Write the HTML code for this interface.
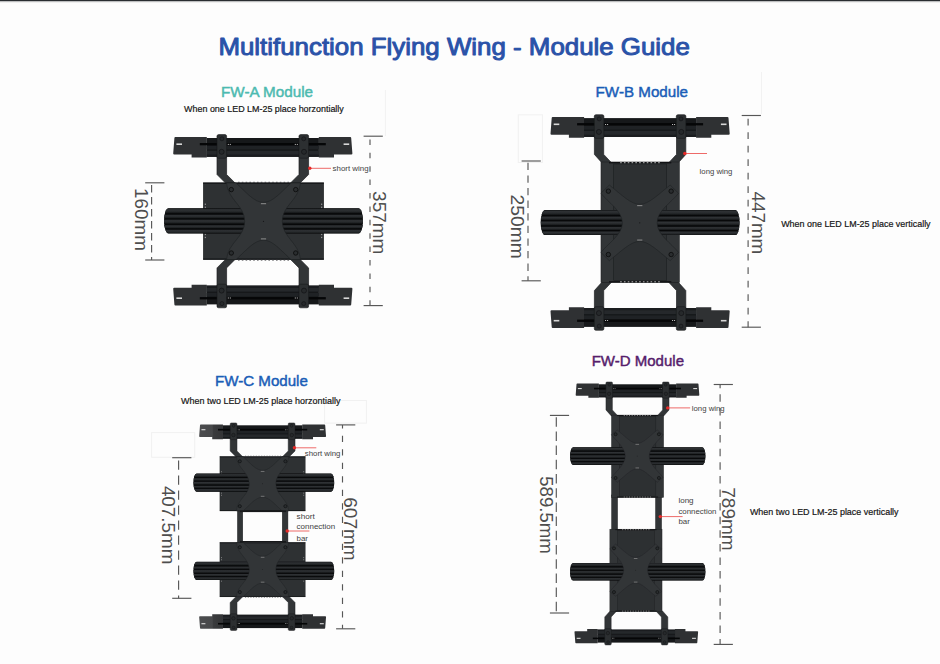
<!DOCTYPE html><html><head><meta charset="utf-8"><style>html,body{margin:0;padding:0;background:#fdfdfd;width:940px;height:664px;overflow:hidden}svg{display:block}text{font-family:"Liberation Sans",sans-serif}</style></head><body>
<svg width="940" height="664" viewBox="0 0 940 664">
<defs><linearGradient id="rg" x1="0" y1="0" x2="0" y2="1"><stop offset="0" stop-color="#181a1c"/><stop offset="0.3" stop-color="#2f3235"/><stop offset="0.65" stop-color="#25282a"/><stop offset="1" stop-color="#0f1112"/></linearGradient></defs>
<defs><linearGradient id="bg" x1="0" y1="0" x2="1" y2="0"><stop offset="0" stop-color="#4b4c4e"/><stop offset="0.55" stop-color="#47484a"/><stop offset="0.6" stop-color="#3a3b3d"/><stop offset="1" stop-color="#333436"/></linearGradient></defs>
<rect width="940" height="664" fill="#fdfdfd"/>
<rect width="940" height="1.2" fill="#2a2d31"/><rect y="1.2" width="940" height="1" fill="#b8b9ba"/>
<rect x="518.3" y="114.8" width="24.1" height="47.7" fill="none" stroke="#f1f1f1" stroke-width="1"/>
<rect x="151.6" y="432.6" width="43.1" height="24.7" fill="none" stroke="#f1f1f1" stroke-width="1"/>
<rect x="324.6" y="400.5" width="41.8" height="22.6" fill="none" stroke="#f1f1f1" stroke-width="1"/>
<line x1="385.4" y1="90" x2="385.4" y2="136" stroke="#f2f2f2" stroke-width="1"/>
<line x1="761.5" y1="72" x2="761.5" y2="114" stroke="#f2f2f2" stroke-width="1"/>
<text x="218.4" y="54.9" font-size="24" fill="#2a52a8" stroke="#2a52a8" stroke-width="0.95" stroke-linejoin="round" textLength="471.5" lengthAdjust="spacingAndGlyphs">Multifunction Flying Wing - Module Guide</text>
<text x="221" y="97.2" font-size="15.2" fill="#4cbab0" stroke="#4cbab0" stroke-width="0.45" textLength="92" lengthAdjust="spacingAndGlyphs">FW-A Module</text>
<text x="184.1" y="112.0" font-size="9.4" fill="#151515" stroke="#151515" stroke-width="0.2" textLength="159.7" lengthAdjust="spacingAndGlyphs">When one LED LM-25 place horzontially</text>
<text x="595.6" y="97.1" font-size="15.2" fill="#1a5db7" stroke="#1a5db7" stroke-width="0.45" textLength="92.4" lengthAdjust="spacingAndGlyphs">FW-B Module</text>
<text x="781.2" y="227.2" font-size="9.4" fill="#151515" stroke="#151515" stroke-width="0.2" textLength="149.4" lengthAdjust="spacingAndGlyphs">When one LED LM-25 place vertically</text>
<text x="214.9" y="385.8" font-size="15.2" fill="#1a5db7" stroke="#1a5db7" stroke-width="0.45" textLength="93" lengthAdjust="spacingAndGlyphs">FW-C Module</text>
<text x="181.1" y="403.6" font-size="9.4" fill="#151515" stroke="#151515" stroke-width="0.2" textLength="159.3" lengthAdjust="spacingAndGlyphs">When two LED LM-25 place horzontially</text>
<text x="591.7" y="366.4" font-size="15.2" fill="#561d6c" stroke="#561d6c" stroke-width="0.45" textLength="92.3" lengthAdjust="spacingAndGlyphs">FW-D Module</text>
<text x="749.9" y="515.4" font-size="9.4" fill="#151515" stroke="#151515" stroke-width="0.2" textLength="148.7" lengthAdjust="spacingAndGlyphs">When two LED LM-25 place vertically</text>
<g>
<g>
<polygon points="217.00,150.00 226.60,150.00 226.60,174.50 243.60,191.50 234.00,191.50 217.00,174.50" fill="#323537" stroke="#1f2124" stroke-width="0.70"/>
<polygon points="308.60,150.00 299.00,150.00 299.00,174.50 282.00,191.50 291.60,191.50 308.60,174.50" fill="#323537" stroke="#1f2124" stroke-width="0.70"/>
<g transform="translate(262.80,137.00) scale(1.0000,1.0000)"><g transform="scale(1,1)"><path d="M-88.4 1 Q-88.4 0 -87.4 0 L-56 0 L-56 20.6 L-71.2 20.6 L-71.2 17.6 L-88.6 17.6 Q-89.6 17.6 -89.6 16.6 Z" fill="#2f3133"/><rect x="-86.4" y="6.4" width="5.6" height="1.6" fill="#d8d8d8"/></g><g transform="scale(-1,1)"><path d="M-88.4 1 Q-88.4 0 -87.4 0 L-56 0 L-56 20.6 L-71.2 20.6 L-71.2 17.6 L-88.6 17.6 Q-89.6 17.6 -89.6 16.6 Z" fill="#2f3133"/><rect x="-86.4" y="6.4" width="5.6" height="1.6" fill="#d8d8d8"/></g><rect x="-56.1" y="1" width="112.2" height="18.8" fill="#16181a"/><rect x="-56.1" y="8.9" width="112.2" height="3.5" fill="#1f2225"/><rect x="-56.1" y="13.8" width="112.2" height="4" fill="#25282b"/><rect x="-56.1" y="17.8" width="112.2" height="2" fill="#1a1c1f"/><rect x="-63" y="6.0" width="126" height="2.3" fill="#050607"/><g transform="scale(1,1)"><rect x="-45.8" y="-2.4" width="9.6" height="23.6" rx="1.6" fill="#2c2f31" stroke="#17191b" stroke-width="0.6"/><circle cx="-40.9" cy="1.8" r="2" fill="#26292b" stroke="#121315" stroke-width="0.6"/><circle cx="-41.2" cy="14.8" r="2.5" fill="#26292b" stroke="#121315" stroke-width="0.7"/><rect x="-35" y="6.9" width="1" height="1" fill="#cfcfcf"/><rect x="-33" y="6.9" width="1" height="1" fill="#cfcfcf"/></g><g transform="scale(-1,1)"><rect x="-45.8" y="-2.4" width="9.6" height="23.6" rx="1.6" fill="#2c2f31" stroke="#17191b" stroke-width="0.6"/><circle cx="-40.9" cy="1.8" r="2" fill="#26292b" stroke="#121315" stroke-width="0.6"/><circle cx="-41.2" cy="14.8" r="2.5" fill="#26292b" stroke="#121315" stroke-width="0.7"/><rect x="-35" y="6.9" width="1" height="1" fill="#cfcfcf"/><rect x="-33" y="6.9" width="1" height="1" fill="#cfcfcf"/></g></g>
</g>
<g transform="translate(0,442.40) scale(1,-1)">
<polygon points="217.00,150.00 226.60,150.00 226.60,174.50 243.60,191.50 234.00,191.50 217.00,174.50" fill="#323537" stroke="#1f2124" stroke-width="0.70"/>
<polygon points="308.60,150.00 299.00,150.00 299.00,174.50 282.00,191.50 291.60,191.50 308.60,174.50" fill="#323537" stroke="#1f2124" stroke-width="0.70"/>
<g transform="translate(262.80,137.00) scale(1.0000,1.0000)"><g transform="scale(1,1)"><path d="M-88.4 1 Q-88.4 0 -87.4 0 L-56 0 L-56 20.6 L-71.2 20.6 L-71.2 17.6 L-88.6 17.6 Q-89.6 17.6 -89.6 16.6 Z" fill="#2f3133"/><rect x="-86.4" y="6.4" width="5.6" height="1.6" fill="#d8d8d8"/></g><g transform="scale(-1,1)"><path d="M-88.4 1 Q-88.4 0 -87.4 0 L-56 0 L-56 20.6 L-71.2 20.6 L-71.2 17.6 L-88.6 17.6 Q-89.6 17.6 -89.6 16.6 Z" fill="#2f3133"/><rect x="-86.4" y="6.4" width="5.6" height="1.6" fill="#d8d8d8"/></g><rect x="-56.1" y="1" width="112.2" height="18.8" fill="#16181a"/><rect x="-56.1" y="8.9" width="112.2" height="3.5" fill="#1f2225"/><rect x="-56.1" y="13.8" width="112.2" height="4" fill="#25282b"/><rect x="-56.1" y="17.8" width="112.2" height="2" fill="#1a1c1f"/><rect x="-63" y="6.0" width="126" height="2.3" fill="#050607"/><g transform="scale(1,1)"><rect x="-45.8" y="-2.4" width="9.6" height="23.6" rx="1.6" fill="#2c2f31" stroke="#17191b" stroke-width="0.6"/><circle cx="-40.9" cy="1.8" r="2" fill="#26292b" stroke="#121315" stroke-width="0.6"/><circle cx="-41.2" cy="14.8" r="2.5" fill="#26292b" stroke="#121315" stroke-width="0.7"/><rect x="-35" y="6.9" width="1" height="1" fill="#cfcfcf"/><rect x="-33" y="6.9" width="1" height="1" fill="#cfcfcf"/></g><g transform="scale(-1,1)"><rect x="-45.8" y="-2.4" width="9.6" height="23.6" rx="1.6" fill="#2c2f31" stroke="#17191b" stroke-width="0.6"/><circle cx="-40.9" cy="1.8" r="2" fill="#26292b" stroke="#121315" stroke-width="0.6"/><circle cx="-41.2" cy="14.8" r="2.5" fill="#26292b" stroke="#121315" stroke-width="0.7"/><rect x="-35" y="6.9" width="1" height="1" fill="#cfcfcf"/><rect x="-33" y="6.9" width="1" height="1" fill="#cfcfcf"/></g></g>
</g>
<rect x="203.30" y="182.80" width="120.40" height="76.80" fill="#2e3133" stroke="#1e2022" stroke-width="0.60"/>
<rect x="203.30" y="182.80" width="120.40" height="1.20" fill="#17191b"/>
<rect x="203.30" y="258.40" width="120.40" height="1.20" fill="#17191b"/>
<rect x="321.20" y="203.60" width="1.00" height="1.30" fill="#a8a8a8"/>
<rect x="321.20" y="206.60" width="1.00" height="1.30" fill="#a8a8a8"/>
<rect x="321.20" y="233.80" width="1.00" height="1.30" fill="#a8a8a8"/>
<rect x="321.20" y="236.80" width="1.00" height="1.30" fill="#a8a8a8"/>
<rect x="204.80" y="203.60" width="1.00" height="1.30" fill="#a8a8a8"/>
<rect x="204.80" y="206.60" width="1.00" height="1.30" fill="#a8a8a8"/>
<rect x="204.80" y="233.80" width="1.00" height="1.30" fill="#a8a8a8"/>
<rect x="204.80" y="236.80" width="1.00" height="1.30" fill="#a8a8a8"/>
<line x1="238.00" y1="182.30" x2="290.00" y2="182.30" stroke="#3a3b3e" stroke-width="0.90" stroke-dasharray="1.60 2.20"/>
<line x1="238.00" y1="260.10" x2="290.00" y2="260.10" stroke="#3a3b3e" stroke-width="0.90" stroke-dasharray="1.60 2.20"/>
<clipPath id="lc1"><path d="M168.50 208.30 H358.50 A4.50 12.60 0 0 1 358.50 233.50 H168.50 A4.50 12.60 0 0 1 168.50 208.30 Z"/></clipPath>
<path d="M168.50 208.30 H358.50 A4.50 12.60 0 0 1 358.50 233.50 H168.50 A4.50 12.60 0 0 1 168.50 208.30 Z" fill="#060708"/>
<g clip-path="url(#lc1)">
<rect x="164.00" y="208.30" width="199.00" height="5.04" fill="url(#rg)"/>
<rect x="164.00" y="214.47" width="199.00" height="3.91" fill="url(#rg)"/>
<rect x="164.00" y="219.39" width="199.00" height="4.41" fill="url(#rg)"/>
<rect x="164.00" y="224.93" width="199.00" height="3.53" fill="url(#rg)"/>
<rect x="164.00" y="229.47" width="199.00" height="4.03" fill="url(#rg)"/>
</g>
<path d="M226.50 183.00 L236.00 183.00 C246.00 192.00 254.00 202.40 263.50 202.40 C273.00 202.40 281.00 192.00 291.00 183.00 L300.50 183.00 C299.00 200.00 282.30 205.30 282.30 221.30 C282.30 237.30 299.00 242.60 300.50 259.60 L291.00 259.60 C281.00 250.60 273.00 240.20 263.50 240.20 C254.00 240.20 246.00 250.60 236.00 259.60 L226.50 259.60 C228.00 242.60 244.70 237.30 244.70 221.30 C244.70 205.30 228.00 200.00 226.50 183.00 Z" fill="#323537" stroke="#1f2124" stroke-width="0.60"/>
<circle cx="295.70" cy="253.00" r="2.20" fill="#2a2d2f" stroke="#0d0e0f" stroke-width="0.90"/>
<circle cx="295.70" cy="189.60" r="2.20" fill="#2a2d2f" stroke="#0d0e0f" stroke-width="0.90"/>
<circle cx="231.30" cy="253.00" r="2.20" fill="#2a2d2f" stroke="#0d0e0f" stroke-width="0.90"/>
<circle cx="231.30" cy="189.60" r="2.20" fill="#2a2d2f" stroke="#0d0e0f" stroke-width="0.90"/>
<rect x="260.90" y="203.20" width="5.20" height="1.00" fill="#8e8e8e"/>
<rect x="260.90" y="238.40" width="5.20" height="1.00" fill="#8e8e8e"/>
<circle cx="263.50" cy="221.30" r="0.60" fill="#151517"/>
</g>
<text x="332.60" y="170.70" font-size="8" fill="#3f3f3f" textLength="36.0" lengthAdjust="spacingAndGlyphs">short wing</text>
<line x1="309.30" y1="168.30" x2="331.00" y2="168.30" stroke="#ee6a68" stroke-width="1"/>
<circle cx="309.80" cy="168.30" r="1.7" fill="#e42a28"/>
<line x1="145.20" y1="182.80" x2="164.40" y2="182.80" stroke="#575757" stroke-width="1.15"/>
<line x1="145.20" y1="260.00" x2="164.40" y2="260.00" stroke="#575757" stroke-width="1.15"/>
<line x1="151.60" y1="182.80" x2="151.60" y2="260.00" stroke="#575757" stroke-width="1.15" stroke-dasharray="7.4 4.6" stroke-dashoffset="9.80"/>
<text transform="translate(135.30,219.45) rotate(90)" text-anchor="middle" font-size="19" fill="#4e4e4e" textLength="62.7" lengthAdjust="spacingAndGlyphs">160mm</text>
<line x1="363.60" y1="136.20" x2="382.80" y2="136.20" stroke="#575757" stroke-width="1.15"/>
<line x1="363.60" y1="305.60" x2="382.80" y2="305.60" stroke="#575757" stroke-width="1.15"/>
<line x1="370.00" y1="136.20" x2="370.00" y2="305.60" stroke="#575757" stroke-width="1.15" stroke-dasharray="5.5 7.9" stroke-dashoffset="10.20"/>
<text transform="translate(373.00,222.75) rotate(90)" text-anchor="middle" font-size="19" fill="#4e4e4e" textLength="63.3" lengthAdjust="spacingAndGlyphs">357mm</text>
<g>
<polygon points="594.40,130.00 603.70,130.00 603.70,154.40 611.70,163.00 602.10,163.00 594.40,154.40" fill="#323537" stroke="#1f2124" stroke-width="0.70"/>
<polygon points="685.80,130.00 676.50,130.00 676.50,154.40 668.50,163.00 678.10,163.00 685.80,154.40" fill="#323537" stroke="#1f2124" stroke-width="0.70"/>
<g transform="translate(640.10,117.10) scale(1.0000,1.0000)"><g transform="scale(1,1)"><path d="M-88.4 1 Q-88.4 0 -87.4 0 L-56 0 L-56 20.6 L-71.2 20.6 L-71.2 17.6 L-88.6 17.6 Q-89.6 17.6 -89.6 16.6 Z" fill="#2f3133"/><rect x="-86.4" y="6.4" width="5.6" height="1.6" fill="#d8d8d8"/></g><g transform="scale(-1,1)"><path d="M-88.4 1 Q-88.4 0 -87.4 0 L-56 0 L-56 20.6 L-71.2 20.6 L-71.2 17.6 L-88.6 17.6 Q-89.6 17.6 -89.6 16.6 Z" fill="#2f3133"/><rect x="-86.4" y="6.4" width="5.6" height="1.6" fill="#d8d8d8"/></g><rect x="-56.1" y="1" width="112.2" height="18.8" fill="#16181a"/><rect x="-56.1" y="8.9" width="112.2" height="3.5" fill="#1f2225"/><rect x="-56.1" y="13.8" width="112.2" height="4" fill="#25282b"/><rect x="-56.1" y="17.8" width="112.2" height="2" fill="#1a1c1f"/><rect x="-63" y="6.0" width="126" height="2.3" fill="#050607"/><g transform="scale(1,1)"><rect x="-45.8" y="-2.4" width="9.6" height="23.6" rx="1.6" fill="#2c2f31" stroke="#17191b" stroke-width="0.6"/><circle cx="-40.9" cy="1.8" r="2" fill="#26292b" stroke="#121315" stroke-width="0.6"/><circle cx="-41.2" cy="14.8" r="2.5" fill="#26292b" stroke="#121315" stroke-width="0.7"/><rect x="-35" y="6.9" width="1" height="1" fill="#cfcfcf"/><rect x="-33" y="6.9" width="1" height="1" fill="#cfcfcf"/></g><g transform="scale(-1,1)"><rect x="-45.8" y="-2.4" width="9.6" height="23.6" rx="1.6" fill="#2c2f31" stroke="#17191b" stroke-width="0.6"/><circle cx="-40.9" cy="1.8" r="2" fill="#26292b" stroke="#121315" stroke-width="0.6"/><circle cx="-41.2" cy="14.8" r="2.5" fill="#26292b" stroke="#121315" stroke-width="0.7"/><rect x="-35" y="6.9" width="1" height="1" fill="#cfcfcf"/><rect x="-33" y="6.9" width="1" height="1" fill="#cfcfcf"/></g></g>
</g>
<g transform="translate(0,445.00) scale(1,-1)">
<polygon points="594.40,130.00 603.70,130.00 603.70,154.40 611.70,163.00 602.10,163.00 594.40,154.40" fill="#323537" stroke="#1f2124" stroke-width="0.70"/>
<polygon points="685.80,130.00 676.50,130.00 676.50,154.40 668.50,163.00 678.10,163.00 685.80,154.40" fill="#323537" stroke="#1f2124" stroke-width="0.70"/>
<g transform="translate(640.10,117.10) scale(1.0000,1.0000)"><g transform="scale(1,1)"><path d="M-88.4 1 Q-88.4 0 -87.4 0 L-56 0 L-56 20.6 L-71.2 20.6 L-71.2 17.6 L-88.6 17.6 Q-89.6 17.6 -89.6 16.6 Z" fill="#2f3133"/><rect x="-86.4" y="6.4" width="5.6" height="1.6" fill="#d8d8d8"/></g><g transform="scale(-1,1)"><path d="M-88.4 1 Q-88.4 0 -87.4 0 L-56 0 L-56 20.6 L-71.2 20.6 L-71.2 17.6 L-88.6 17.6 Q-89.6 17.6 -89.6 16.6 Z" fill="#2f3133"/><rect x="-86.4" y="6.4" width="5.6" height="1.6" fill="#d8d8d8"/></g><rect x="-56.1" y="1" width="112.2" height="18.8" fill="#16181a"/><rect x="-56.1" y="8.9" width="112.2" height="3.5" fill="#1f2225"/><rect x="-56.1" y="13.8" width="112.2" height="4" fill="#25282b"/><rect x="-56.1" y="17.8" width="112.2" height="2" fill="#1a1c1f"/><rect x="-63" y="6.0" width="126" height="2.3" fill="#050607"/><g transform="scale(1,1)"><rect x="-45.8" y="-2.4" width="9.6" height="23.6" rx="1.6" fill="#2c2f31" stroke="#17191b" stroke-width="0.6"/><circle cx="-40.9" cy="1.8" r="2" fill="#26292b" stroke="#121315" stroke-width="0.6"/><circle cx="-41.2" cy="14.8" r="2.5" fill="#26292b" stroke="#121315" stroke-width="0.7"/><rect x="-35" y="6.9" width="1" height="1" fill="#cfcfcf"/><rect x="-33" y="6.9" width="1" height="1" fill="#cfcfcf"/></g><g transform="scale(-1,1)"><rect x="-45.8" y="-2.4" width="9.6" height="23.6" rx="1.6" fill="#2c2f31" stroke="#17191b" stroke-width="0.6"/><circle cx="-40.9" cy="1.8" r="2" fill="#26292b" stroke="#121315" stroke-width="0.6"/><circle cx="-41.2" cy="14.8" r="2.5" fill="#26292b" stroke="#121315" stroke-width="0.7"/><rect x="-35" y="6.9" width="1" height="1" fill="#cfcfcf"/><rect x="-33" y="6.9" width="1" height="1" fill="#cfcfcf"/></g></g>
</g>
<rect x="601.00" y="162.00" width="78.30" height="120.50" fill="#323537" stroke="#1e2022" stroke-width="0.60"/>
<rect x="613.65" y="164.00" width="53.00" height="116.50" fill="#2d3032" stroke="#1f2123" stroke-width="0.70"/>
<rect x="609.00" y="162.00" width="62.30" height="1.40" fill="#111214"/>
<rect x="609.00" y="281.10" width="62.30" height="1.40" fill="#111214"/>
<line x1="620.15" y1="162.70" x2="660.15" y2="162.70" stroke="#c9c9c9" stroke-width="0.90" stroke-dasharray="1.60 2.20"/>
<line x1="620.15" y1="281.80" x2="660.15" y2="281.80" stroke="#c9c9c9" stroke-width="0.90" stroke-dasharray="1.60 2.20"/>
<clipPath id="lc2"><path d="M545.15 210.10 H735.15 A4.50 12.50 0 0 1 735.15 235.10 H545.15 A4.50 12.50 0 0 1 545.15 210.10 Z"/></clipPath>
<path d="M545.15 210.10 H735.15 A4.50 12.50 0 0 1 735.15 235.10 H545.15 A4.50 12.50 0 0 1 545.15 210.10 Z" fill="#060708"/>
<g clip-path="url(#lc2)">
<rect x="540.65" y="210.10" width="199.00" height="5.00" fill="url(#rg)"/>
<rect x="540.65" y="216.22" width="199.00" height="3.88" fill="url(#rg)"/>
<rect x="540.65" y="221.10" width="199.00" height="4.38" fill="url(#rg)"/>
<rect x="540.65" y="226.60" width="199.00" height="3.50" fill="url(#rg)"/>
<rect x="540.65" y="231.10" width="199.00" height="4.00" fill="url(#rg)"/>
</g>
<path d="M600.95 193.25 L609.35 185.05 C621.35 194.55 630.75 204.35 639.75 204.35 C648.75 204.35 658.15 194.55 670.15 185.05 L678.55 193.25 C671.55 202.25 657.15 210.85 657.15 222.85 C657.15 234.85 671.55 243.45 678.55 252.45 L670.15 260.65 C658.15 251.15 648.75 241.35 639.75 241.35 C630.75 241.35 621.35 251.15 609.35 260.65 L600.95 252.45 C607.95 243.45 622.35 234.85 622.35 222.85 C622.35 210.85 607.95 202.25 600.95 193.25 Z" fill="#323537" stroke="#1f2124" stroke-width="0.60"/>
<circle cx="671.15" cy="254.55" r="2.20" fill="#2a2d2f" stroke="#0d0e0f" stroke-width="0.90"/>
<circle cx="671.15" cy="191.15" r="2.20" fill="#2a2d2f" stroke="#0d0e0f" stroke-width="0.90"/>
<circle cx="608.35" cy="254.55" r="2.20" fill="#2a2d2f" stroke="#0d0e0f" stroke-width="0.90"/>
<circle cx="608.35" cy="191.15" r="2.20" fill="#2a2d2f" stroke="#0d0e0f" stroke-width="0.90"/>
<rect x="637.15" y="205.15" width="5.20" height="1.00" fill="#8e8e8e"/>
<rect x="637.15" y="239.55" width="5.20" height="1.00" fill="#8e8e8e"/>
<circle cx="639.75" cy="222.85" r="0.60" fill="#151517"/>
<text x="699.60" y="174.10" font-size="8" fill="#3f3f3f" textLength="32.8" lengthAdjust="spacingAndGlyphs">long wing</text>
<line x1="684.30" y1="153.50" x2="707.00" y2="153.50" stroke="#ee6a68" stroke-width="1"/>
<circle cx="684.80" cy="153.50" r="1.7" fill="#e42a28"/>
<line x1="521.60" y1="161.00" x2="540.80" y2="161.00" stroke="#575757" stroke-width="1.15"/>
<line x1="521.60" y1="280.80" x2="540.80" y2="280.80" stroke="#575757" stroke-width="1.15"/>
<line x1="528.00" y1="161.00" x2="528.00" y2="280.80" stroke="#575757" stroke-width="1.15" stroke-dasharray="7.3 5.3" stroke-dashoffset="10.80"/>
<text transform="translate(511.10,226.60) rotate(90)" text-anchor="middle" font-size="19" fill="#4e4e4e" textLength="64.2" lengthAdjust="spacingAndGlyphs">250mm</text>
<line x1="741.70" y1="115.50" x2="760.90" y2="115.50" stroke="#575757" stroke-width="1.15"/>
<line x1="741.70" y1="327.20" x2="760.90" y2="327.20" stroke="#575757" stroke-width="1.15"/>
<line x1="748.10" y1="115.50" x2="748.10" y2="327.20" stroke="#575757" stroke-width="1.15" stroke-dasharray="6.9 6.6" stroke-dashoffset="10.30"/>
<text transform="translate(751.70,222.85) rotate(90)" text-anchor="middle" font-size="19" fill="#4e4e4e" textLength="62.9" lengthAdjust="spacingAndGlyphs">447mm</text>
<g>
<polygon points="230.17,436.00 236.97,436.00 236.97,450.92 249.01,462.96 242.21,462.96 230.17,450.92" fill="#323537" stroke="#1f2124" stroke-width="0.50"/>
<polygon points="295.03,436.00 288.23,436.00 288.23,450.92 276.19,462.96 282.99,462.96 295.03,450.92" fill="#323537" stroke="#1f2124" stroke-width="0.50"/>
<g transform="translate(262.60,424.60) scale(0.7080,0.7080)"><g transform="scale(1,1)"><path d="M-88.4 1 Q-88.4 0 -87.4 0 L-56 0 L-56 20.6 L-71.2 20.6 L-71.2 17.6 L-88.6 17.6 Q-89.6 17.6 -89.6 16.6 Z" fill="url(#bg)"/><rect x="-86.4" y="6.4" width="5.6" height="1.6" fill="#d8d8d8"/></g><g transform="scale(-1,1)"><path d="M-88.4 1 Q-88.4 0 -87.4 0 L-56 0 L-56 20.6 L-71.2 20.6 L-71.2 17.6 L-88.6 17.6 Q-89.6 17.6 -89.6 16.6 Z" fill="#2f3133"/><rect x="-86.4" y="6.4" width="5.6" height="1.6" fill="#d8d8d8"/></g><rect x="-56.1" y="1" width="112.2" height="18.8" fill="#16181a"/><rect x="-56.1" y="8.9" width="112.2" height="3.5" fill="#1f2225"/><rect x="-56.1" y="13.8" width="112.2" height="4" fill="#25282b"/><rect x="-56.1" y="17.8" width="112.2" height="2" fill="#1a1c1f"/><rect x="-63" y="6.0" width="126" height="2.3" fill="#050607"/><g transform="scale(1,1)"><rect x="-45.8" y="-2.4" width="9.6" height="23.6" rx="1.6" fill="#2c2f31" stroke="#17191b" stroke-width="0.6"/><circle cx="-40.9" cy="1.8" r="2" fill="#26292b" stroke="#121315" stroke-width="0.6"/><circle cx="-41.2" cy="14.8" r="2.5" fill="#26292b" stroke="#121315" stroke-width="0.7"/><rect x="-35" y="6.9" width="1" height="1" fill="#cfcfcf"/><rect x="-33" y="6.9" width="1" height="1" fill="#cfcfcf"/></g><g transform="scale(-1,1)"><rect x="-45.8" y="-2.4" width="9.6" height="23.6" rx="1.6" fill="#2c2f31" stroke="#17191b" stroke-width="0.6"/><circle cx="-40.9" cy="1.8" r="2" fill="#26292b" stroke="#121315" stroke-width="0.6"/><circle cx="-41.2" cy="14.8" r="2.5" fill="#26292b" stroke="#121315" stroke-width="0.7"/><rect x="-35" y="6.9" width="1" height="1" fill="#cfcfcf"/><rect x="-33" y="6.9" width="1" height="1" fill="#cfcfcf"/></g></g>
</g>
<g transform="translate(0,1053.40) scale(1,-1)">
<polygon points="230.17,436.00 236.97,436.00 236.97,450.92 249.01,462.96 242.21,462.96 230.17,450.92" fill="#323537" stroke="#1f2124" stroke-width="0.50"/>
<polygon points="295.03,436.00 288.23,436.00 288.23,450.92 276.19,462.96 282.99,462.96 295.03,450.92" fill="#323537" stroke="#1f2124" stroke-width="0.50"/>
<g transform="translate(262.60,424.60) scale(0.7080,0.7080)"><g transform="scale(1,1)"><path d="M-88.4 1 Q-88.4 0 -87.4 0 L-56 0 L-56 20.6 L-71.2 20.6 L-71.2 17.6 L-88.6 17.6 Q-89.6 17.6 -89.6 16.6 Z" fill="url(#bg)"/><rect x="-86.4" y="6.4" width="5.6" height="1.6" fill="#d8d8d8"/></g><g transform="scale(-1,1)"><path d="M-88.4 1 Q-88.4 0 -87.4 0 L-56 0 L-56 20.6 L-71.2 20.6 L-71.2 17.6 L-88.6 17.6 Q-89.6 17.6 -89.6 16.6 Z" fill="#2f3133"/><rect x="-86.4" y="6.4" width="5.6" height="1.6" fill="#d8d8d8"/></g><rect x="-56.1" y="1" width="112.2" height="18.8" fill="#16181a"/><rect x="-56.1" y="8.9" width="112.2" height="3.5" fill="#1f2225"/><rect x="-56.1" y="13.8" width="112.2" height="4" fill="#25282b"/><rect x="-56.1" y="17.8" width="112.2" height="2" fill="#1a1c1f"/><rect x="-63" y="6.0" width="126" height="2.3" fill="#050607"/><g transform="scale(1,1)"><rect x="-45.8" y="-2.4" width="9.6" height="23.6" rx="1.6" fill="#2c2f31" stroke="#17191b" stroke-width="0.6"/><circle cx="-40.9" cy="1.8" r="2" fill="#26292b" stroke="#121315" stroke-width="0.6"/><circle cx="-41.2" cy="14.8" r="2.5" fill="#26292b" stroke="#121315" stroke-width="0.7"/><rect x="-35" y="6.9" width="1" height="1" fill="#cfcfcf"/><rect x="-33" y="6.9" width="1" height="1" fill="#cfcfcf"/></g><g transform="scale(-1,1)"><rect x="-45.8" y="-2.4" width="9.6" height="23.6" rx="1.6" fill="#2c2f31" stroke="#17191b" stroke-width="0.6"/><circle cx="-40.9" cy="1.8" r="2" fill="#26292b" stroke="#121315" stroke-width="0.6"/><circle cx="-41.2" cy="14.8" r="2.5" fill="#26292b" stroke="#121315" stroke-width="0.7"/><rect x="-35" y="6.9" width="1" height="1" fill="#cfcfcf"/><rect x="-33" y="6.9" width="1" height="1" fill="#cfcfcf"/></g></g>
</g>
<rect x="237.5" y="509" width="5.2" height="35" fill="#323537" stroke="#17181a" stroke-width="0.5"/>
<rect x="282.3" y="509" width="5.6" height="35" fill="#323537" stroke="#17181a" stroke-width="0.5"/>
<rect x="219.93" y="456.56" width="85.24" height="54.37" fill="#2e3133" stroke="#1e2022" stroke-width="0.42"/>
<rect x="219.93" y="456.56" width="85.24" height="0.85" fill="#17191b"/>
<rect x="219.93" y="510.09" width="85.24" height="0.85" fill="#17191b"/>
<rect x="303.40" y="471.29" width="0.71" height="0.92" fill="#a8a8a8"/>
<rect x="303.40" y="473.41" width="0.71" height="0.92" fill="#a8a8a8"/>
<rect x="303.40" y="492.67" width="0.71" height="0.92" fill="#a8a8a8"/>
<rect x="303.40" y="494.79" width="0.71" height="0.92" fill="#a8a8a8"/>
<rect x="220.99" y="471.29" width="0.71" height="0.92" fill="#a8a8a8"/>
<rect x="220.99" y="473.41" width="0.71" height="0.92" fill="#a8a8a8"/>
<rect x="220.99" y="492.67" width="0.71" height="0.92" fill="#a8a8a8"/>
<rect x="220.99" y="494.79" width="0.71" height="0.92" fill="#a8a8a8"/>
<line x1="245.00" y1="456.15" x2="281.00" y2="456.15" stroke="#3a3b3e" stroke-width="0.64" stroke-dasharray="1.13 1.56"/>
<line x1="245.00" y1="511.35" x2="281.00" y2="511.35" stroke="#3a3b3e" stroke-width="0.64" stroke-dasharray="1.13 1.56"/>
<clipPath id="lc3"><path d="M196.54 473.59 H331.06 A3.19 9.06 0 0 1 331.06 491.71 H196.54 A3.19 9.06 0 0 1 196.54 473.59 Z"/></clipPath>
<path d="M196.54 473.59 H331.06 A3.19 9.06 0 0 1 331.06 491.71 H196.54 A3.19 9.06 0 0 1 196.54 473.59 Z" fill="#060708"/>
<g clip-path="url(#lc3)">
<rect x="193.35" y="473.59" width="140.89" height="3.62" fill="url(#rg)"/>
<rect x="193.35" y="478.03" width="140.89" height="2.81" fill="url(#rg)"/>
<rect x="193.35" y="481.56" width="140.89" height="3.17" fill="url(#rg)"/>
<rect x="193.35" y="485.55" width="140.89" height="2.54" fill="url(#rg)"/>
<rect x="193.35" y="488.81" width="140.89" height="2.90" fill="url(#rg)"/>
</g>
<path d="M236.40 456.63 L243.13 456.63 C250.21 463.01 255.87 470.37 262.60 470.37 C269.33 470.37 274.99 463.01 282.07 456.63 L288.80 456.63 C287.73 468.67 275.91 472.42 275.91 483.75 C275.91 495.08 287.73 498.83 288.80 510.87 L282.07 510.87 C274.99 504.49 269.33 497.13 262.60 497.13 C255.87 497.13 250.21 504.49 243.13 510.87 L236.40 510.87 C237.47 498.83 249.29 495.08 249.29 483.75 C249.29 472.42 237.47 468.67 236.40 456.63 Z" fill="#323537" stroke="#1f2124" stroke-width="0.42"/>
<circle cx="285.40" cy="506.19" r="1.56" fill="#2a2d2f" stroke="#0d0e0f" stroke-width="0.64"/>
<circle cx="285.40" cy="461.31" r="1.56" fill="#2a2d2f" stroke="#0d0e0f" stroke-width="0.64"/>
<circle cx="239.80" cy="506.19" r="1.56" fill="#2a2d2f" stroke="#0d0e0f" stroke-width="0.64"/>
<circle cx="239.80" cy="461.31" r="1.56" fill="#2a2d2f" stroke="#0d0e0f" stroke-width="0.64"/>
<rect x="260.76" y="470.94" width="3.68" height="0.71" fill="#8e8e8e"/>
<rect x="260.76" y="495.86" width="3.68" height="0.71" fill="#8e8e8e"/>
<circle cx="262.60" cy="483.75" r="0.42" fill="#151517"/>
<rect x="219.93" y="542.46" width="85.24" height="54.37" fill="#2e3133" stroke="#1e2022" stroke-width="0.42"/>
<rect x="219.93" y="542.46" width="85.24" height="0.85" fill="#17191b"/>
<rect x="219.93" y="595.99" width="85.24" height="0.85" fill="#17191b"/>
<rect x="303.40" y="557.19" width="0.71" height="0.92" fill="#a8a8a8"/>
<rect x="303.40" y="559.31" width="0.71" height="0.92" fill="#a8a8a8"/>
<rect x="303.40" y="578.57" width="0.71" height="0.92" fill="#a8a8a8"/>
<rect x="303.40" y="580.69" width="0.71" height="0.92" fill="#a8a8a8"/>
<rect x="220.99" y="557.19" width="0.71" height="0.92" fill="#a8a8a8"/>
<rect x="220.99" y="559.31" width="0.71" height="0.92" fill="#a8a8a8"/>
<rect x="220.99" y="578.57" width="0.71" height="0.92" fill="#a8a8a8"/>
<rect x="220.99" y="580.69" width="0.71" height="0.92" fill="#a8a8a8"/>
<line x1="245.00" y1="542.05" x2="281.00" y2="542.05" stroke="#3a3b3e" stroke-width="0.64" stroke-dasharray="1.13 1.56"/>
<line x1="245.00" y1="597.25" x2="281.00" y2="597.25" stroke="#3a3b3e" stroke-width="0.64" stroke-dasharray="1.13 1.56"/>
<clipPath id="lc4"><path d="M196.54 561.84 H331.06 A3.19 9.06 0 0 1 331.06 579.96 H196.54 A3.19 9.06 0 0 1 196.54 561.84 Z"/></clipPath>
<path d="M196.54 561.84 H331.06 A3.19 9.06 0 0 1 331.06 579.96 H196.54 A3.19 9.06 0 0 1 196.54 561.84 Z" fill="#060708"/>
<g clip-path="url(#lc4)">
<rect x="193.35" y="561.84" width="140.89" height="3.62" fill="url(#rg)"/>
<rect x="193.35" y="566.28" width="140.89" height="2.81" fill="url(#rg)"/>
<rect x="193.35" y="569.81" width="140.89" height="3.17" fill="url(#rg)"/>
<rect x="193.35" y="573.80" width="140.89" height="2.54" fill="url(#rg)"/>
<rect x="193.35" y="577.06" width="140.89" height="2.90" fill="url(#rg)"/>
</g>
<path d="M236.40 542.53 L243.13 542.53 C250.21 548.91 255.87 556.27 262.60 556.27 C269.33 556.27 274.99 548.91 282.07 542.53 L288.80 542.53 C287.73 554.57 275.91 558.32 275.91 569.65 C275.91 580.98 287.73 584.73 288.80 596.77 L282.07 596.77 C274.99 590.39 269.33 583.03 262.60 583.03 C255.87 583.03 250.21 590.39 243.13 596.77 L236.40 596.77 C237.47 584.73 249.29 580.98 249.29 569.65 C249.29 558.32 237.47 554.57 236.40 542.53 Z" fill="#323537" stroke="#1f2124" stroke-width="0.42"/>
<circle cx="285.40" cy="592.09" r="1.56" fill="#2a2d2f" stroke="#0d0e0f" stroke-width="0.64"/>
<circle cx="285.40" cy="547.21" r="1.56" fill="#2a2d2f" stroke="#0d0e0f" stroke-width="0.64"/>
<circle cx="239.80" cy="592.09" r="1.56" fill="#2a2d2f" stroke="#0d0e0f" stroke-width="0.64"/>
<circle cx="239.80" cy="547.21" r="1.56" fill="#2a2d2f" stroke="#0d0e0f" stroke-width="0.64"/>
<rect x="260.76" y="556.84" width="3.68" height="0.71" fill="#8e8e8e"/>
<rect x="260.76" y="581.76" width="3.68" height="0.71" fill="#8e8e8e"/>
<circle cx="262.60" cy="569.65" r="0.42" fill="#151517"/>
<rect x="240" y="510.5" width="46" height="1.6" fill="#17181a"/>
<rect x="240" y="541" width="46" height="1.6" fill="#17181a"/>
<text x="304.80" y="455.60" font-size="8" fill="#3f3f3f" textLength="35.6" lengthAdjust="spacingAndGlyphs">short wing</text>
<line x1="293.90" y1="447.80" x2="316.30" y2="447.80" stroke="#ee6a68" stroke-width="1"/>
<circle cx="294.40" cy="447.80" r="1.7" fill="#e42a28"/>
<text x="296.60" y="519.20" font-size="8" fill="#3f3f3f" textLength="18.2" lengthAdjust="spacingAndGlyphs">short</text>
<text x="296.60" y="529.40" font-size="8" fill="#3f3f3f" textLength="38.6" lengthAdjust="spacingAndGlyphs">connection</text>
<text x="296.60" y="540.50" font-size="8" fill="#3f3f3f" textLength="11.4" lengthAdjust="spacingAndGlyphs">bar</text>
<line x1="286.70" y1="531.00" x2="309.40" y2="531.00" stroke="#ee6a68" stroke-width="1"/>
<circle cx="287.20" cy="531.00" r="1.7" fill="#e42a28"/>
<line x1="172.20" y1="457.70" x2="191.40" y2="457.70" stroke="#575757" stroke-width="1.15"/>
<line x1="172.20" y1="598.30" x2="191.40" y2="598.30" stroke="#575757" stroke-width="1.15"/>
<line x1="178.60" y1="457.70" x2="178.60" y2="598.30" stroke="#575757" stroke-width="1.15" stroke-dasharray="9.3 5.7" stroke-dashoffset="12.20"/>
<text transform="translate(162.30,525.15) rotate(90)" text-anchor="middle" font-size="19" fill="#4e4e4e" textLength="78.5" lengthAdjust="spacingAndGlyphs">407.5mm</text>
<line x1="336.10" y1="424.90" x2="355.30" y2="424.90" stroke="#575757" stroke-width="1.15"/>
<line x1="336.10" y1="628.80" x2="355.30" y2="628.80" stroke="#575757" stroke-width="1.15"/>
<line x1="342.50" y1="424.90" x2="342.50" y2="628.80" stroke="#575757" stroke-width="1.15" stroke-dasharray="6.3 7.2" stroke-dashoffset="2.60"/>
<text transform="translate(344.40,528.95) rotate(90)" text-anchor="middle" font-size="19" fill="#4e4e4e" textLength="63.5" lengthAdjust="spacingAndGlyphs">607mm</text>
<g>
<polygon points="605.97,395.00 612.38,395.00 612.38,409.96 617.90,415.89 611.28,415.89 605.97,409.96" fill="#323537" stroke="#1f2124" stroke-width="0.48"/>
<polygon points="669.03,395.00 662.62,395.00 662.62,409.96 657.10,415.89 663.72,415.89 669.03,409.96" fill="#323537" stroke="#1f2124" stroke-width="0.48"/>
<g transform="translate(637.50,383.60) scale(0.6900,0.6900)"><g transform="scale(1,1)"><path d="M-88.4 1 Q-88.4 0 -87.4 0 L-56 0 L-56 20.6 L-71.2 20.6 L-71.2 17.6 L-88.6 17.6 Q-89.6 17.6 -89.6 16.6 Z" fill="#2f3133"/><rect x="-86.4" y="6.4" width="5.6" height="1.6" fill="#d8d8d8"/></g><g transform="scale(-1,1)"><path d="M-88.4 1 Q-88.4 0 -87.4 0 L-56 0 L-56 20.6 L-71.2 20.6 L-71.2 17.6 L-88.6 17.6 Q-89.6 17.6 -89.6 16.6 Z" fill="#2f3133"/><rect x="-86.4" y="6.4" width="5.6" height="1.6" fill="#d8d8d8"/></g><rect x="-56.1" y="1" width="112.2" height="18.8" fill="#16181a"/><rect x="-56.1" y="8.9" width="112.2" height="3.5" fill="#1f2225"/><rect x="-56.1" y="13.8" width="112.2" height="4" fill="#25282b"/><rect x="-56.1" y="17.8" width="112.2" height="2" fill="#1a1c1f"/><rect x="-63" y="6.0" width="126" height="2.3" fill="#050607"/><g transform="scale(1,1)"><rect x="-45.8" y="-2.4" width="9.6" height="23.6" rx="1.6" fill="#2c2f31" stroke="#17191b" stroke-width="0.6"/><circle cx="-40.9" cy="1.8" r="2" fill="#26292b" stroke="#121315" stroke-width="0.6"/><circle cx="-41.2" cy="14.8" r="2.5" fill="#26292b" stroke="#121315" stroke-width="0.7"/><rect x="-35" y="6.9" width="1" height="1" fill="#cfcfcf"/><rect x="-33" y="6.9" width="1" height="1" fill="#cfcfcf"/></g><g transform="scale(-1,1)"><rect x="-45.8" y="-2.4" width="9.6" height="23.6" rx="1.6" fill="#2c2f31" stroke="#17191b" stroke-width="0.6"/><circle cx="-40.9" cy="1.8" r="2" fill="#26292b" stroke="#121315" stroke-width="0.6"/><circle cx="-41.2" cy="14.8" r="2.5" fill="#26292b" stroke="#121315" stroke-width="0.7"/><rect x="-35" y="6.9" width="1" height="1" fill="#cfcfcf"/><rect x="-33" y="6.9" width="1" height="1" fill="#cfcfcf"/></g></g>
</g>
<g transform="translate(-1.2,1026.90) scale(1,-1)">
<polygon points="605.97,395.00 612.38,395.00 612.38,409.96 617.90,415.89 611.28,415.89 605.97,409.96" fill="#323537" stroke="#1f2124" stroke-width="0.48"/>
<polygon points="669.03,395.00 662.62,395.00 662.62,409.96 657.10,415.89 663.72,415.89 669.03,409.96" fill="#323537" stroke="#1f2124" stroke-width="0.48"/>
<g transform="translate(637.50,383.60) scale(0.6900,0.6900)"><g transform="scale(1,1)"><path d="M-88.4 1 Q-88.4 0 -87.4 0 L-56 0 L-56 20.6 L-71.2 20.6 L-71.2 17.6 L-88.6 17.6 Q-89.6 17.6 -89.6 16.6 Z" fill="#2f3133"/><rect x="-86.4" y="6.4" width="5.6" height="1.6" fill="#d8d8d8"/></g><g transform="scale(-1,1)"><path d="M-88.4 1 Q-88.4 0 -87.4 0 L-56 0 L-56 20.6 L-71.2 20.6 L-71.2 17.6 L-88.6 17.6 Q-89.6 17.6 -89.6 16.6 Z" fill="#2f3133"/><rect x="-86.4" y="6.4" width="5.6" height="1.6" fill="#d8d8d8"/></g><rect x="-56.1" y="1" width="112.2" height="18.8" fill="#16181a"/><rect x="-56.1" y="8.9" width="112.2" height="3.5" fill="#1f2225"/><rect x="-56.1" y="13.8" width="112.2" height="4" fill="#25282b"/><rect x="-56.1" y="17.8" width="112.2" height="2" fill="#1a1c1f"/><rect x="-63" y="6.0" width="126" height="2.3" fill="#050607"/><g transform="scale(1,1)"><rect x="-45.8" y="-2.4" width="9.6" height="23.6" rx="1.6" fill="#2c2f31" stroke="#17191b" stroke-width="0.6"/><circle cx="-40.9" cy="1.8" r="2" fill="#26292b" stroke="#121315" stroke-width="0.6"/><circle cx="-41.2" cy="14.8" r="2.5" fill="#26292b" stroke="#121315" stroke-width="0.7"/><rect x="-35" y="6.9" width="1" height="1" fill="#cfcfcf"/><rect x="-33" y="6.9" width="1" height="1" fill="#cfcfcf"/></g><g transform="scale(-1,1)"><rect x="-45.8" y="-2.4" width="9.6" height="23.6" rx="1.6" fill="#2c2f31" stroke="#17191b" stroke-width="0.6"/><circle cx="-40.9" cy="1.8" r="2" fill="#26292b" stroke="#121315" stroke-width="0.6"/><circle cx="-41.2" cy="14.8" r="2.5" fill="#26292b" stroke="#121315" stroke-width="0.7"/><rect x="-35" y="6.9" width="1" height="1" fill="#cfcfcf"/><rect x="-33" y="6.9" width="1" height="1" fill="#cfcfcf"/></g></g>
</g>
<rect x="611.7" y="495" width="5.8" height="36" fill="#323537" stroke="#17181a" stroke-width="0.5"/>
<rect x="655.6" y="495" width="5.9" height="36" fill="#323537" stroke="#17181a" stroke-width="0.5"/>
<rect x="611.47" y="415.07" width="52.16" height="82.45" fill="#323537" stroke="#1e2022" stroke-width="0.41"/>
<rect x="619.26" y="416.45" width="36.57" height="79.69" fill="#2d3032" stroke="#1f2123" stroke-width="0.48"/>
<rect x="616.99" y="415.07" width="41.12" height="0.97" fill="#111214"/>
<rect x="616.99" y="496.56" width="41.12" height="0.97" fill="#111214"/>
<line x1="623.75" y1="415.56" x2="651.35" y2="415.56" stroke="#c9c9c9" stroke-width="0.62" stroke-dasharray="1.10 1.52"/>
<line x1="623.75" y1="497.04" x2="651.35" y2="497.04" stroke="#c9c9c9" stroke-width="0.62" stroke-dasharray="1.10 1.52"/>
<clipPath id="lc5"><path d="M573.10 447.30 H702.40 A3.10 8.80 0 0 1 702.40 464.90 H573.10 A3.10 8.80 0 0 1 573.10 447.30 Z"/></clipPath>
<path d="M573.10 447.30 H702.40 A3.10 8.80 0 0 1 702.40 464.90 H573.10 A3.10 8.80 0 0 1 573.10 447.30 Z" fill="#060708"/>
<g clip-path="url(#lc5)">
<rect x="569.99" y="447.30" width="135.52" height="3.52" fill="url(#rg)"/>
<rect x="569.99" y="451.61" width="135.52" height="2.73" fill="url(#rg)"/>
<rect x="569.99" y="455.04" width="135.52" height="3.08" fill="url(#rg)"/>
<rect x="569.99" y="458.92" width="135.52" height="2.46" fill="url(#rg)"/>
<rect x="569.99" y="462.08" width="135.52" height="2.82" fill="url(#rg)"/>
</g>
<path d="M611.44 434.71 L617.24 430.02 C625.52 436.57 631.04 443.34 637.25 443.34 C643.46 443.34 648.98 436.57 657.26 430.02 L663.06 434.71 C658.23 440.92 649.26 447.82 649.26 456.10 C649.26 464.38 658.23 471.28 663.06 477.49 L657.26 482.18 C648.98 475.63 643.46 468.87 637.25 468.87 C631.04 468.87 625.52 475.63 617.24 482.18 L611.44 477.49 C616.27 471.28 625.24 464.38 625.24 456.10 C625.24 447.82 616.27 440.92 611.44 434.71 Z" fill="#323537" stroke="#1f2124" stroke-width="0.41"/>
<circle cx="658.92" cy="477.97" r="1.52" fill="#2a2d2f" stroke="#0d0e0f" stroke-width="0.62"/>
<circle cx="658.92" cy="434.23" r="1.52" fill="#2a2d2f" stroke="#0d0e0f" stroke-width="0.62"/>
<circle cx="615.58" cy="477.97" r="1.52" fill="#2a2d2f" stroke="#0d0e0f" stroke-width="0.62"/>
<circle cx="615.58" cy="434.23" r="1.52" fill="#2a2d2f" stroke="#0d0e0f" stroke-width="0.62"/>
<rect x="635.46" y="443.89" width="3.59" height="0.69" fill="#8e8e8e"/>
<rect x="635.46" y="467.62" width="3.59" height="0.69" fill="#8e8e8e"/>
<circle cx="637.25" cy="456.10" r="0.41" fill="#151517"/>
<rect x="609.87" y="529.17" width="52.16" height="82.45" fill="#323537" stroke="#1e2022" stroke-width="0.41"/>
<rect x="617.67" y="530.55" width="36.57" height="79.69" fill="#2d3032" stroke="#1f2123" stroke-width="0.48"/>
<rect x="615.39" y="529.17" width="41.12" height="0.97" fill="#111214"/>
<rect x="615.39" y="610.66" width="41.12" height="0.97" fill="#111214"/>
<line x1="622.15" y1="529.66" x2="649.75" y2="529.66" stroke="#c9c9c9" stroke-width="0.62" stroke-dasharray="1.10 1.52"/>
<line x1="622.15" y1="611.14" x2="649.75" y2="611.14" stroke="#c9c9c9" stroke-width="0.62" stroke-dasharray="1.10 1.52"/>
<clipPath id="lc6"><path d="M573.10 563.00 H702.40 A3.10 8.80 0 0 1 702.40 580.60 H573.10 A3.10 8.80 0 0 1 573.10 563.00 Z"/></clipPath>
<path d="M573.10 563.00 H702.40 A3.10 8.80 0 0 1 702.40 580.60 H573.10 A3.10 8.80 0 0 1 573.10 563.00 Z" fill="#060708"/>
<g clip-path="url(#lc6)">
<rect x="569.99" y="563.00" width="135.52" height="3.52" fill="url(#rg)"/>
<rect x="569.99" y="567.31" width="135.52" height="2.73" fill="url(#rg)"/>
<rect x="569.99" y="570.74" width="135.52" height="3.08" fill="url(#rg)"/>
<rect x="569.99" y="574.62" width="135.52" height="2.46" fill="url(#rg)"/>
<rect x="569.99" y="577.78" width="135.52" height="2.82" fill="url(#rg)"/>
</g>
<path d="M609.84 548.81 L615.64 544.12 C623.92 550.67 629.44 557.43 635.65 557.43 C641.86 557.43 647.38 550.67 655.66 544.12 L661.46 548.81 C656.63 555.02 647.66 561.92 647.66 570.20 C647.66 578.48 656.63 585.38 661.46 591.59 L655.66 596.28 C647.38 589.73 641.86 582.96 635.65 582.96 C629.44 582.96 623.92 589.73 615.64 596.28 L609.84 591.59 C614.67 585.38 623.64 578.48 623.64 570.20 C623.64 561.92 614.67 555.02 609.84 548.81 Z" fill="#323537" stroke="#1f2124" stroke-width="0.41"/>
<circle cx="657.32" cy="592.07" r="1.52" fill="#2a2d2f" stroke="#0d0e0f" stroke-width="0.62"/>
<circle cx="657.32" cy="548.33" r="1.52" fill="#2a2d2f" stroke="#0d0e0f" stroke-width="0.62"/>
<circle cx="613.98" cy="592.07" r="1.52" fill="#2a2d2f" stroke="#0d0e0f" stroke-width="0.62"/>
<circle cx="613.98" cy="548.33" r="1.52" fill="#2a2d2f" stroke="#0d0e0f" stroke-width="0.62"/>
<rect x="633.86" y="557.99" width="3.59" height="0.69" fill="#8e8e8e"/>
<rect x="633.86" y="581.72" width="3.59" height="0.69" fill="#8e8e8e"/>
<circle cx="635.65" cy="570.20" r="0.41" fill="#151517"/>
<text x="691.80" y="411.40" font-size="8" fill="#3f3f3f" textLength="32.8" lengthAdjust="spacingAndGlyphs">long wing</text>
<line x1="667.20" y1="407.90" x2="690.20" y2="407.90" stroke="#ee6a68" stroke-width="1"/>
<circle cx="667.70" cy="407.90" r="1.7" fill="#e42a28"/>
<text x="678.40" y="503.20" font-size="8" fill="#3f3f3f" textLength="15.2" lengthAdjust="spacingAndGlyphs">long</text>
<text x="678.40" y="513.70" font-size="8" fill="#3f3f3f" textLength="38.0" lengthAdjust="spacingAndGlyphs">connection</text>
<text x="678.40" y="524.30" font-size="8" fill="#3f3f3f" textLength="11.4" lengthAdjust="spacingAndGlyphs">bar</text>
<line x1="659.80" y1="516.60" x2="682.60" y2="516.60" stroke="#ee6a68" stroke-width="1"/>
<circle cx="660.30" cy="516.60" r="1.7" fill="#e42a28"/>
<line x1="549.90" y1="415.40" x2="569.10" y2="415.40" stroke="#575757" stroke-width="1.15"/>
<line x1="549.90" y1="613.00" x2="569.10" y2="613.00" stroke="#575757" stroke-width="1.15"/>
<line x1="556.30" y1="415.40" x2="556.30" y2="613.00" stroke="#575757" stroke-width="1.15" stroke-dasharray="9.5 4.7" stroke-dashoffset="12.40"/>
<text transform="translate(540.10,515.00) rotate(90)" text-anchor="middle" font-size="19" fill="#4e4e4e" textLength="77.6" lengthAdjust="spacingAndGlyphs">589.5mm</text>
<line x1="713.70" y1="384.50" x2="732.90" y2="384.50" stroke="#575757" stroke-width="1.15"/>
<line x1="713.70" y1="644.40" x2="732.90" y2="644.40" stroke="#575757" stroke-width="1.15"/>
<line x1="720.10" y1="384.50" x2="720.10" y2="644.40" stroke="#575757" stroke-width="1.15" stroke-dasharray="7.5 6.1" stroke-dashoffset="3.80"/>
<text transform="translate(722.20,518.95) rotate(90)" text-anchor="middle" font-size="19" fill="#4e4e4e" textLength="63.5" lengthAdjust="spacingAndGlyphs">789mm</text>
</svg></body></html>
